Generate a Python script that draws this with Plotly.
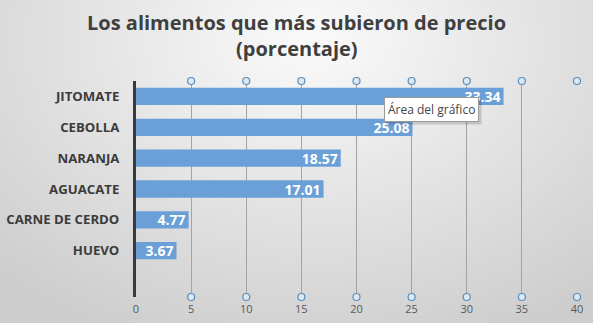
import base64, struct, zlib
import numpy as np
import plotly.graph_objects as go

categories = ["JITOMATE", "CEBOLLA", "NARANJA", "AGUACATE", "CARNE DE CERDO", "HUEVO"]
values = [33.34, 25.08, 18.57, 17.01, 4.77, 3.67]
x_ticks = [0, 5, 10, 15, 20, 25, 30, 35, 40]
title_lines = ["Los alimentos que más subieron de precio", "(porcentaje)"]

W, H = 593, 323
L, R, T, B = 136, 16, 81, 26
PW, PH = W - L - R, H - T - B

# background gradient image (radial, lighter top centre)
gw, gh = 120, 66
yy, xx = np.mgrid[0:gh, 0:gw]
cx, cy = gw * 0.52, gh * 0.12
d = np.sqrt(((xx - cx) / gw) ** 2 + ((yy - cy) / gh * 0.75) ** 2)
img = np.clip(251 - d * 60, 205, 255).astype(np.uint8)

def to_png(a):
    h, w = a.shape
    raw = b"".join(b"\x00" + a[i].tobytes() for i in range(h))
    def chunk(t, data):
        c = struct.pack(">I", len(data)) + t + data
        return c + struct.pack(">I", zlib.crc32(t + data) & 0xffffffff)
    return (b"\x89PNG\r\n\x1a\n" + chunk(b"IHDR", struct.pack(">IIBBBBB", w, h, 8, 0, 0, 0, 0))
            + chunk(b"IDAT", zlib.compress(raw, 9)) + chunk(b"IEND", b""))

src = "data:image/png;base64," + base64.b64encode(to_png(img)).decode()

ypos = list(range(len(categories)))
n_bands = len(categories) + 1

fig = go.Figure()
fig.add_trace(go.Bar(
    x=values, y=ypos, orientation="h",
    marker=dict(color="#6A9FD7", line=dict(width=0)),
    width=0.56,
    text=[f"{v:.2f}" for v in values],
    textposition="inside", insidetextanchor="end", constraintext="none",
    textfont=dict(family="Open Sans", size=14, color="white", weight="bold"),
    cliponaxis=False, hoverinfo="skip",
))
# gridline selection handles
hx = [t for t in x_ticks if t > 0]
for yv in (-0.5, n_bands - 0.5):
    fig.add_trace(go.Scatter(
        x=hx, y=[yv] * len(hx), mode="markers", cliponaxis=False,
        marker=dict(symbol="circle", size=7, color="#DCE9F4",
                    line=dict(color="#5B8DB8", width=1.2)),
        hoverinfo="skip",
    ))

fig.update_layout(
    width=W, height=H,
    margin=dict(l=L, r=R, t=T, b=B, autoexpand=False),
    paper_bgcolor="#E6E6E6", plot_bgcolor="rgba(0,0,0,0)",
    showlegend=False,
    font=dict(family="Open Sans", color="#404040"),
    images=[dict(source=src, xref="paper", yref="paper",
                 x=-L / PW, y=1 + T / PH, sizex=W / PW, sizey=H / PH,
                 xanchor="left", yanchor="top", sizing="stretch", layer="below")],
    xaxis=dict(range=[0, 40], tickvals=x_ticks, ticktext=[str(t) for t in x_ticks],
               showgrid=True, gridcolor="#A3A3A3", gridwidth=1, zeroline=False,
               showline=False, ticks="", ticklabelstandoff=4, automargin=False,
               tickfont=dict(family="Open Sans", size=11, color="#595959")),
    yaxis=dict(range=[n_bands - 0.5, -0.5], tickvals=ypos, ticktext=categories,
               showgrid=False, zeroline=False, showline=True, linecolor="#3A3A3A",
               linewidth=3, ticks="", ticklabelstandoff=11, automargin=False,
               tickfont=dict(family="Open Sans", size=13.2, color="#3B3B3B", weight="bold")),
)
# title lines
for i, line in enumerate(title_lines):
    fig.add_annotation(x=(W / 2 - L) / PW, y=(H - B - (22 + 26 * i)) / PH,
                       xref="paper", yref="paper",
                       text=line, showarrow=False, xanchor="center", yanchor="middle",
                       font=dict(family="Open Sans", size=20, color="#3F3F3F", weight="bold"))

# tooltip box ("Área del gráfico")
tx, ty = (431 - L) / PW, (H - B - 109) / PH
fig.add_annotation(x=tx + 2 / PW, y=ty - 2 / PH, xref="paper", yref="paper",
                   xanchor="center", yanchor="middle",
                   text="Área del gráfico", showarrow=False,
                   font=dict(family="Open Sans", size=12, color="rgba(0,0,0,0)"),
                   bgcolor="rgba(0,0,0,0.15)", borderpad=4)
fig.add_annotation(x=tx, y=ty, xref="paper", yref="paper",
                   xanchor="center", yanchor="middle",
                   text="Área del gráfico", showarrow=False,
                   font=dict(family="Open Sans", size=12, color="#444444"),
                   bgcolor="white", bordercolor="#9A9A9A", borderwidth=1, borderpad=3)

fig.write_html("out.html")
